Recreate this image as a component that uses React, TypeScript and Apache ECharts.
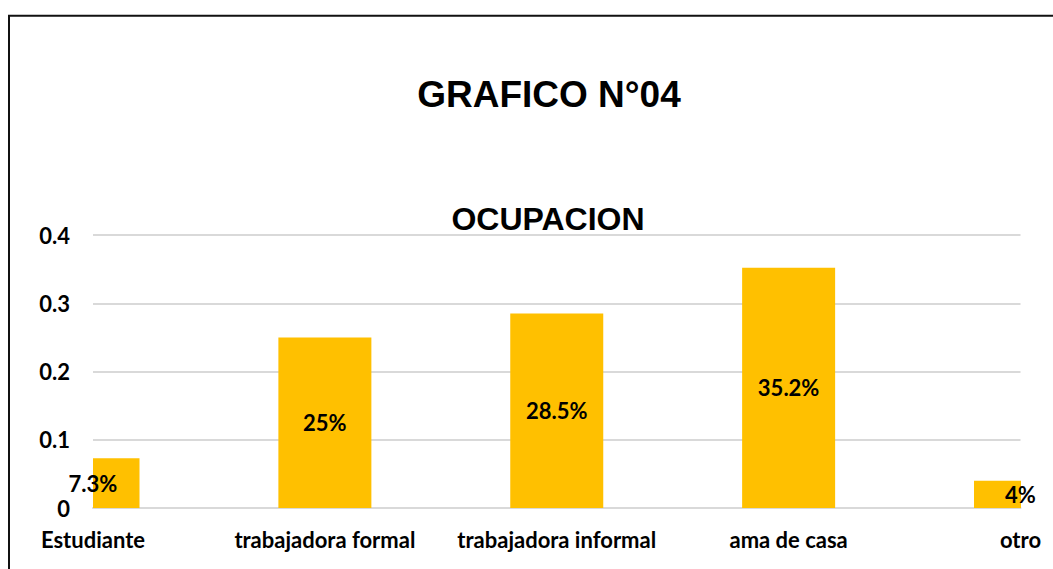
import React, { useEffect, useRef } from "react";
import * as echarts from "echarts";

const categories = ["Estudiante", "trabajadora formal", "trabajadora informal", "ama de casa", "otro"];
const values = [0.073, 0.25, 0.285, 0.352, 0.04];
const valueLabels = ["7.3%", "25%", "28.5%", "35.2%", "4%"];
const titleText = "GRAFICO N°04";
const subtitleText = "OCUPACION";

const LABEL_FONT = "Lato, 'Open Sans', sans-serif";
const BAR_W = 93;

export default function App() {
  const ref = useRef<HTMLDivElement>(null);
  useEffect(() => {
    if (!ref.current) return;
    const chart = echarts.init(ref.current, null, { renderer: "svg" });
    chart.setOption({
      animation: false,
      backgroundColor: "#ffffff",
      grid: { left: 93, right: 32.5, top: 235, bottom: 61, containLabel: false },
      xAxis: {
        type: "category",
        data: categories,
        boundaryGap: false,
        axisLine: { show: true, lineStyle: { color: "#d9d9d9", width: 2 } },
        axisTick: { show: false },
        splitLine: { show: false },
        axisLabel: {
          interval: 0,
          margin: 20,
          color: "#000",
          fontFamily: LABEL_FONT,
          fontWeight: "bold",
          fontSize: 22,
        },
      },
      yAxis: {
        type: "value",
        min: 0,
        max: 0.4,
        interval: 0.1,
        axisLine: { show: false },
        axisTick: { show: false },
        splitLine: { show: true, lineStyle: { color: "#d9d9d9", width: 2 } },
        axisLabel: {
          margin: 23,
          color: "#000",
          fontFamily: LABEL_FONT,
          fontWeight: "bold",
          fontSize: 22,
        },
      },
      series: [
        {
          type: "custom",
          clip: true,
          data: values.map((v, i) => [i, v]),
          encode: { x: 0, y: 1 },
          renderItem: (params: any, api: any) => {
            const idx = api.value(0);
            const v = api.value(1);
            const top = api.coord([idx, v]);
            const base = api.coord([idx, 0]);
            return {
              type: "rect",
              shape: { x: top[0] - BAR_W / 2, y: top[1], width: BAR_W, height: base[1] - top[1] },
              style: { fill: "#ffc000" },
            };
          },
          z: 2,
        },
        {
          type: "bar",
          data: values,
          barWidth: BAR_W,
          clip: false,
          silent: true,
          itemStyle: { color: "rgba(0,0,0,0)" },
          label: {
            show: true,
            position: "inside",
            color: "#000",
            fontFamily: LABEL_FONT,
            fontWeight: "bold",
            fontSize: 22,
            formatter: (p: any) => valueLabels[p.dataIndex],
          },
          z: 3,
        },
      ],
      graphic: [
        {
          type: "rect",
          shape: { x: 9, y: 15.7, width: 1200, height: 700 },
          style: { fill: "none", stroke: "#111", lineWidth: 2 },
          silent: true,
          z: 10,
        },
        {
          type: "text",
          x: 549,
          y: 94,
          style: {
            text: titleText,
            fill: "#000",
            font: "bold 37px 'Liberation Sans', Arial, sans-serif",
            textAlign: "center",
            textVerticalAlign: "middle",
          },
        },
        {
          type: "text",
          x: 548,
          y: 219,
          style: {
            text: subtitleText,
            fill: "#000",
            font: "bold 32px 'Liberation Sans', Arial, sans-serif",
            textAlign: "center",
            textVerticalAlign: "middle",
          },
        },
      ],
    });
    return () => chart.dispose();
  }, []);
  return (
    <div
      ref={ref}
      style={{ position: "fixed", left: 0, top: 0, width: 1053, height: 569, background: "#fff" }}
    />
  );
}
